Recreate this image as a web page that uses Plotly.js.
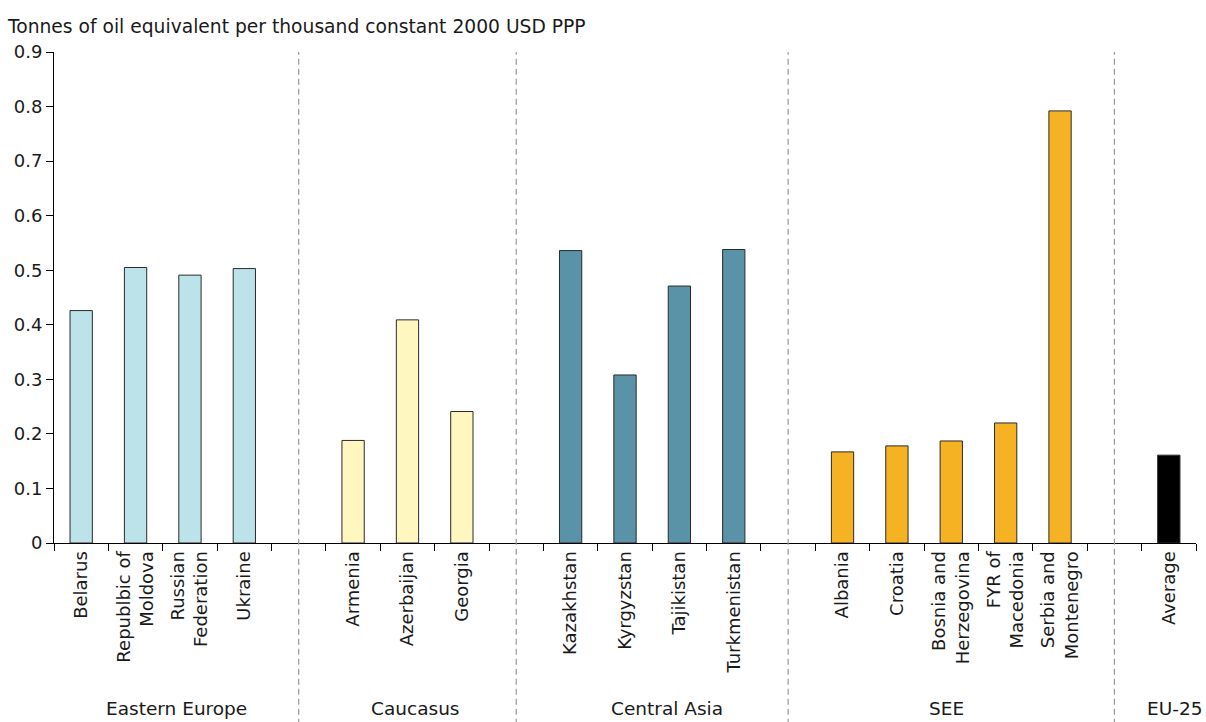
<!DOCTYPE html>
<html>
<head>
<meta charset="utf-8">
<script src="https://cdn.plot.ly/plotly-3.0.1.min.js"></script>
<style>html,body{margin:0;padding:0;background:#fff;}#chart{width:1206px;height:722px;}</style>
</head>
<body>
<div id="chart"></div>
<script>
// ---- data ----
const groupNames = ["Eastern Europe", "Caucasus", "Central Asia", "SEE", "EU-25"];
const easternEurope = ["Belarus", "Republbic of<br>Moldova", "Russian<br>Federation", "Ukraine"];
const easternEuropeValues = [0.426, 0.505, 0.491, 0.503];
const caucasus = ["Armenia", "Azerbaijan", "Georgia"];
const caucasusValues = [0.188, 0.409, 0.241];
const centralAsia = ["Kazakhstan", "Kyrgyzstan", "Tajikistan", "Turkmenistan"];
const centralAsiaValues = [0.536, 0.308, 0.471, 0.538];
const see = ["Albania", "Croatia", "Bosnia and<br>Herzegovina", "FYR of<br>Macedonia", "Serbia and<br>Montenegro"];
const seeValues = [0.167, 0.178, 0.187, 0.220, 0.792];
const eu25 = ["Average"];
const eu25Values = [0.161];
const groupColors = ["#bde3ea", "#fff7bf", "#5a93a8", "#f5b324", "#000000"];

const groups = [
  [easternEurope, easternEuropeValues],
  [caucasus, caucasusValues],
  [centralAsia, centralAsiaValues],
  [see, seeValues],
  [eu25, eu25Values]
];

// build category list with one blank slot between groups
const cats = [], xs = [], ys = [], cols = [], gapCats = [];
groups.forEach((g, gi) => {
  if (gi > 0) { const gap = "gap" + gi; cats.push(gap); gapCats.push(gap); }
  g[0].forEach((c, i) => { cats.push(c); xs.push(c); ys.push(g[1][i]); cols.push(groupColors[gi]); });
});
const tickText = cats.map(c => c.startsWith("gap") ? "" : c);

const FONT = "DejaVu Sans, Verdana, sans-serif";

const trace = {
  type: "bar", x: xs, y: ys, width: 0.41,
  marker: { color: cols, line: { color: "#2a2a2a", width: 1 } },
  hoverinfo: "x+y"
};

const shapes = gapCats.map(g => ({
  type: "line", xref: "x", yref: "paper", x0: g, x1: g, y0: -0.37, y1: 1.0,
  line: { color: "#999999", width: 1.2, dash: "6px,4px" }
}));

// group label x positions (category-index units)
const groupLabelX = [1.76, 6.14, 10.77, 15.92, 20.11];
const annotations = groupNames.map((n, i) => ({
  text: n, xref: "x", yref: "paper", x: groupLabelX[i], y: -0.3635,
  xanchor: "center", yanchor: "bottom", showarrow: false,
  font: { family: FONT, size: 18.5, color: "#1a1a1a" }
}));

const layout = {
  width: 1206, height: 722,
  margin: { l: 54, r: 10, t: 51.5, b: 179, pad: 0 },
  paper_bgcolor: "#fff", plot_bgcolor: "#fff",
  font: { family: FONT, size: 16, color: "#1a1a1a" },
  showlegend: false,
  title: {
    text: "Tonnes of oil equivalent per thousand constant 2000 USD PPP",
    xref: "container", yref: "container", x: 8 / 1206, xanchor: "left",
    y: 1 - 26 / 722, yanchor: "middle",
    font: { family: FONT, size: 18.7, color: "#1a1a1a" }
  },
  xaxis: {
    type: "category", categoryorder: "array", categoryarray: cats,
    tickmode: "array", tickvals: cats, ticktext: tickText,
    range: [-0.5, cats.length - 0.5],
    tickson: "boundaries", ticks: "outside", ticklen: 7, tickwidth: 1, tickcolor: "#000",
    tickangle: -90, showline: true, linecolor: "#000", linewidth: 1,
    showgrid: false, zeroline: false,
    tickfont: { family: FONT, size: 18, color: "#1a1a1a" }
  },
  yaxis: {
    range: [0, 0.9], dtick: 0.1, tick0: 0,
    ticks: "outside", ticklen: 7, tickwidth: 1, tickcolor: "#000",
    showline: true, linecolor: "#000", linewidth: 1,
    showgrid: false, zeroline: false,
    tickfont: { family: FONT, size: 18, color: "#1a1a1a" }
  },
  shapes: shapes,
  annotations: annotations
};

Plotly.newPlot("chart", [trace], layout, { staticPlot: true, displayModeBar: false });
</script>
</body>
</html>
